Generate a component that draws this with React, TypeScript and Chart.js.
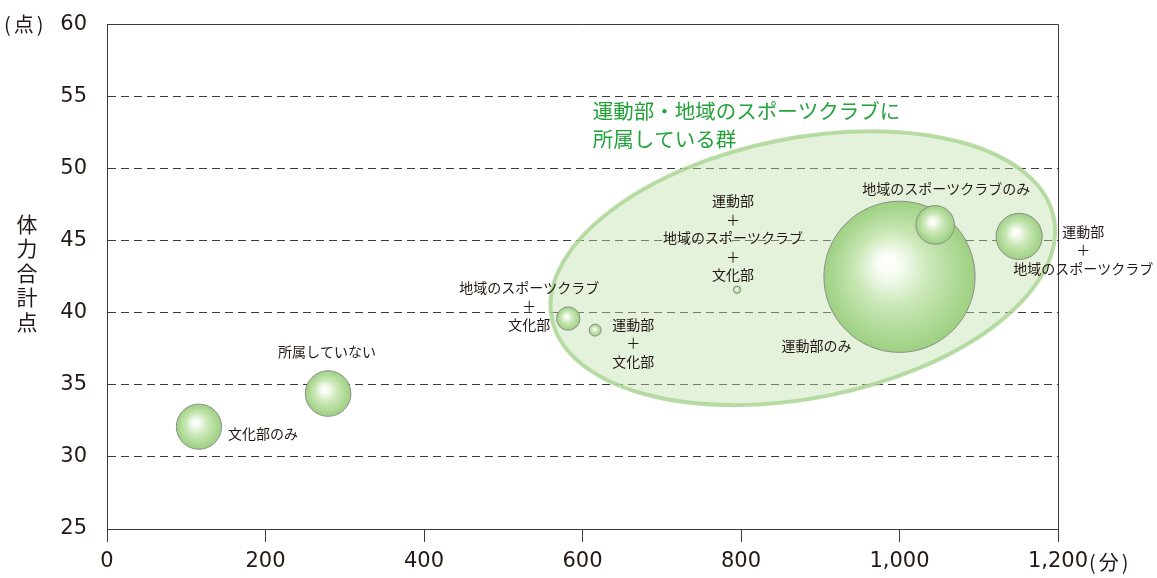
import React, { useEffect, useRef } from 'react';
import { Chart, registerables } from 'chart.js';

Chart.register(...registerables);

// ---- data ----
const categories = [
  '文化部のみ',
  '所属していない',
  '地域のスポーツクラブ＋文化部',
  '運動部＋文化部',
  '運動部＋地域のスポーツクラブ＋文化部',
  '運動部のみ',
  '地域のスポーツクラブのみ',
  '運動部＋地域のスポーツクラブ',
];
const minutes = [116, 279, 582, 616, 795, 1000, 1045, 1151];
const scores = [32.1, 34.4, 39.6, 38.8, 41.6, 42.5, 46.1, 45.3];
const bubbleSizes = [22.6, 22.8, 11.7, 6, 3.7, 75.6, 19.3, 23.1];
const xTicks = [0, 200, 400, 600, 800, 1000, 1200];
const yTicks = [25, 30, 35, 40, 45, 50, 55, 60];
const groupLabelLines = ['運動部・地域のスポーツクラブに', '所属している群'];
const groupCenter = [878, 43.1];
const groupLabelAnchor = [613, 53.97];
const yTitle = '体力合計点';
const yUnit = '(点)';
const xUnit = '(分)';

// ---- styles / placement ----
const labelPlace = [
  { dx: 29, dy: 7.5, align: 'left' },
  { dx: -1, dy: -42, align: 'center' },
  { dx: -39, dy: -31, align: 'center' },
  { dx: 38, dy: -5.5, align: 'center' },
  { dx: -4, dy: -88.7, align: 'center' },
  { dx: -83, dy: 69, align: 'center' },
  { dx: 11, dy: -36, align: 'center' },
  { dx: 64, dy: -5, align: 'center' },
];
const JP = '"Noto Sans CJK JP", "Noto Sans", sans-serif';
const NUM = '"DejaVu Sans", sans-serif';
const NUM_SIZE = 21;
const TEXT = '#231815';
const AXIS = '#3e3a39';

const align = (p: number) => Math.round(p - 0.5) + 0.5;
const fmt = (v: number) => Number(v).toLocaleString('en-US');

const decor = {
  id: 'decor',
  beforeDatasetsDraw(chart: any) {
    const { ctx, chartArea: a, scales } = chart;
    const x = scales.x, y = scales.y;
    ctx.save();
    // dashed grid lines
    ctx.strokeStyle = '#3e3a39';
    ctx.lineWidth = 1;
    ctx.setLineDash([8, 5]);
    yTicks.forEach((v) => {
      if (v === yTicks[0] || v === yTicks[yTicks.length - 1]) return;
      const py = align(y.getPixelForValue(v));
      ctx.beginPath();
      ctx.moveTo(a.left + 1, py);
      ctx.lineTo(a.right, py);
      ctx.stroke();
    });
    ctx.setLineDash([]);
    // frame top & right
    ctx.strokeStyle = AXIS;
    const pt = align(y.getPixelForValue(yTicks[yTicks.length - 1]));
    const pr = align(x.getPixelForValue(xTicks[xTicks.length - 1]));
    ctx.beginPath();
    ctx.moveTo(a.left, pt);
    ctx.lineTo(pr, pt);
    ctx.lineTo(pr, a.bottom);
    ctx.stroke();
    // group ellipse
    const cx = x.getPixelForValue(groupCenter[0]);
    const cy = y.getPixelForValue(groupCenter[1]);
    ctx.beginPath();
    ctx.ellipse(cx, cy, 256, 130, (-11.3 * Math.PI) / 180, 0, Math.PI * 2);
    ctx.fillStyle = 'rgba(190,225,170,0.42)';
    ctx.fill();
    ctx.strokeStyle = 'rgba(172,214,150,0.85)';
    ctx.lineWidth = 4;
    ctx.stroke();
    ctx.restore();
  },
  afterDatasetsDraw(chart: any) {
    const { ctx, chartArea: a, scales } = chart;
    const x = scales.x, y = scales.y;
    ctx.save();
    ctx.fillStyle = TEXT;
    ctx.textBaseline = 'middle';
    ctx.font = `14px ${JP}`;
    categories.forEach((c, i) => {
      const parts = c.split('＋');
      const lines: string[] = [];
      parts.forEach((p, k) => {
        if (k > 0) lines.push('＋');
        lines.push(p);
      });
      const px = x.getPixelForValue(minutes[i]) + labelPlace[i].dx;
      const py = y.getPixelForValue(scores[i]) + labelPlace[i].dy;
      ctx.textAlign = labelPlace[i].align;
      lines.forEach((l, k) => ctx.fillText(l, px, py + k * 18.5));
    });
    // group label
    ctx.fillStyle = '#22a33a';
    ctx.font = `20.5px ${JP}`;
    ctx.textAlign = 'left';
    const gx = x.getPixelForValue(groupLabelAnchor[0]);
    const gy = y.getPixelForValue(groupLabelAnchor[1]);
    groupLabelLines.forEach((l, k) => ctx.fillText(l, gx, gy + k * 28));
    // y axis title (vertical)
    ctx.fillStyle = TEXT;
    ctx.font = `21px ${JP}`;
    ctx.textAlign = 'center';
    const chars = Array.from(yTitle);
    const mid = (a.top + a.bottom) / 2;
    chars.forEach((ch, k) => ctx.fillText(ch, 27, mid - 4 + (k - (chars.length - 1) / 2) * 24.5));
    // units
    ctx.font = `${NUM_SIZE}px ${NUM}`;
    const lastW = ctx.measureText(fmt(xTicks[xTicks.length - 1])).width;
    ctx.font = `20px ${JP}`;
    ctx.textAlign = 'left';
    (ctx as any).letterSpacing = '3px';
    ctx.fillText(yUnit, 4, a.top);
    ctx.fillText(xUnit, x.getPixelForValue(xTicks[xTicks.length - 1]) + lastW / 2 + 1, a.bottom + 33);
    ctx.restore();
  },
};

export default function App() {
  const ref = useRef<HTMLCanvasElement>(null);
  useEffect(() => {
    const data = minutes.map((m, i) => ({ x: m, y: scores[i], r: bubbleSizes[i] }));
    const chart = new Chart(ref.current as HTMLCanvasElement, {
      type: 'bubble',
      data: {
        labels: categories,
        datasets: [
          {
            data,
            clip: false as any,
            borderColor: '#8c8c8c',
            borderWidth: 1,
            backgroundColor: (c: any) => {
              const ch = c.chart;
              const raw = c.raw;
              if (!raw || !ch.chartArea) return '#a8d68f';
              const cx = ch.scales.x.getPixelForValue(raw.x);
              const cy = ch.scales.y.getPixelForValue(raw.y);
              const r = raw.r;
              const g = ch.ctx.createRadialGradient(cx - 0.17 * r, cy - 0.2 * r, 0, cx, cy, r);
              g.addColorStop(0, '#ffffff');
              g.addColorStop(0.13, '#fafdf7');
              g.addColorStop(0.5, '#c9e7b5');
              g.addColorStop(1, '#9dd081');
              return g;
            },
          },
        ],
      },
      options: {
        responsive: false,
        animation: false,
        events: [],
        layout: { autoPadding: false, padding: { top: 24, right: 99, left: 0, bottom: 0 } },
        plugins: { legend: { display: false }, tooltip: { enabled: false } },
        scales: {
          x: {
            type: 'linear',
            min: xTicks[0],
            max: xTicks[xTicks.length - 1],
            afterBuildTicks: (s: any) => {
              s.ticks = xTicks.map((v) => ({ value: v }));
            },
            afterFit: (s: any) => {
              s.height = 49;
            },
            grid: { display: true, drawOnChartArea: false, drawTicks: true, tickLength: 13, color: AXIS },
            border: { display: true, color: AXIS, width: 1 },
            ticks: {
              padding: 7,
              color: TEXT,
              font: { family: NUM, size: NUM_SIZE },
              callback: (v: any) => fmt(v),
            },
          },
          y: {
            type: 'linear',
            min: yTicks[0],
            max: yTicks[yTicks.length - 1],
            afterBuildTicks: (s: any) => {
              s.ticks = yTicks.map((v) => ({ value: v }));
            },
            afterFit: (s: any) => {
              s.width = 107;
            },
            grid: { display: false },
            border: { display: true, color: AXIS, width: 1 },
            ticks: {
              padding: 12,
              color: TEXT,
              font: { family: NUM, size: NUM_SIZE },
            },
          },
        },
      },
      plugins: [decor],
    } as any);
    return () => chart.destroy();
  }, []);
  return (
    <div style={{ position: 'absolute', left: 0, top: 0, width: 1157, height: 578, background: '#fff' }}>
      <canvas ref={ref} width={1157} height={578} style={{ display: 'block', width: 1157, height: 578 }} />
    </div>
  );
}
